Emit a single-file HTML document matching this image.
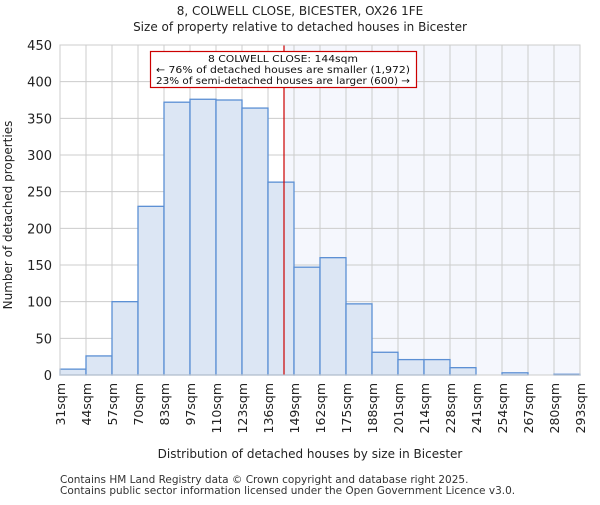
<!DOCTYPE html>
<html><head><meta charset="utf-8"><style>body{margin:0;background:#fff}svg{font-family:"DejaVu Sans","Liberation Sans",sans-serif}</style></head>
<body>
<svg id="c" width="600" height="500" xmlns="http://www.w3.org/2000/svg"></svg>
<script>
const bins=[31,44,57,70,83,97,110,123,136,149,162,175,188,201,214,228,241,254,267,280,293];
const counts=[8,26,100,230,372,376,375,364,263,147,160,97,31,21,21,10,0,3,0,1];
const yTicks=[0,50,100,150,200,250,300,350,400,450];
const marker=144;
const L=60,R=580,T=45,B=375,NS="http://www.w3.org/2000/svg";
const svg=document.getElementById('c');
const n=counts.length,bw=(R-L)/n;
const xi=i=>L+i*bw;
const xv=v=>{for(let i=0;i<bins.length-1;i++){if(v<=bins[i+1])return xi(i)+(v-bins[i])/(bins[i+1]-bins[i])*bw;}return R;};
const y=v=>B-v/450*(B-T);
function mk(t,a,txt){const e=document.createElementNS(NS,t);for(const k in a)e.setAttribute(k,a[k]);if(txt!=null)e.textContent=txt;svg.appendChild(e);return e;}
const mx=xv(marker);
let e=mk('rect',{x:mx,y:T,width:R-mx,height:B-T,fill:'#f5f7fd'});


yTicks.forEach(t=>{const g=mk('line',{x1:L,x2:R,y1:y(t),y2:y(t),stroke:'#ccc','stroke-width':1});


const tl=mk('text',{x:L-8,y:y(t)+5,'text-anchor':'end','font-size':13,fill:'#222'},t);

});
bins.forEach((b,i)=>{const g=mk('line',{x1:xi(i),x2:xi(i),y1:T,y2:B,stroke:'#ccc','stroke-width':1});


const tx=xi(i),ty=B+8;
const tl=mk('text',{x:tx+5,y:ty,'text-anchor':'end','font-size':12.5,fill:'#222',transform:`rotate(-90 ${tx+5} ${ty})`},b+'sqm');

});
counts.forEach((c,i)=>{if(c<=0)return;const r=mk('rect',{x:xi(i),y:y(c),width:bw,height:B-y(c),fill:'#dce6f4',stroke:'#5b8fd4','stroke-width':1.3});

});
e=mk('line',{x1:mx,x2:mx,y1:T,y2:B,stroke:'#cc0000','stroke-width':1.2});


e=mk('rect',{x:L,y:T,width:R-L,height:B-T,fill:'none',stroke:'#ccc'});


e=mk('rect',{x:150.5,y:51.5,width:266,height:36,fill:'#fff',stroke:'#cc0000','stroke-width':1.2});


[['8 COLWELL CLOSE: 144sqm',62],['← 76% of detached houses are smaller (1,972)',73],['23% of semi-detached houses are larger (600) →',84]].forEach(a=>{const t=mk('text',{x:283,y:a[1],'text-anchor':'middle','font-size':10,fill:'#111',textLength:a[0].length>30?254:150,lengthAdjust:'spacingAndGlyphs'},a[0]);

});
e=mk('text',{x:300,y:15,'text-anchor':'middle','font-size':12,fill:'#222'},'8, COLWELL CLOSE, BICESTER, OX26 1FE');


e=mk('text',{x:300,y:31,'text-anchor':'middle','font-size':12,fill:'#222'},'Size of property relative to detached houses in Bicester');


e=mk('text',{x:310,y:458,'text-anchor':'middle','font-size':12,fill:'#222'},'Distribution of detached houses by size in Bicester');


e=mk('text',{x:12,y:215,'text-anchor':'middle','font-size':12,fill:'#222',transform:'rotate(-90 12 215)'},'Number of detached properties');


e=mk('text',{x:60,y:483,'font-size':10.5,fill:'#333'},'Contains HM Land Registry data © Crown copyright and database right 2025.');


e=mk('text',{x:60,y:494,'font-size':10.5,fill:'#333'},'Contains public sector information licensed under the Open Government Licence v3.0.');


</script>
</body></html>
